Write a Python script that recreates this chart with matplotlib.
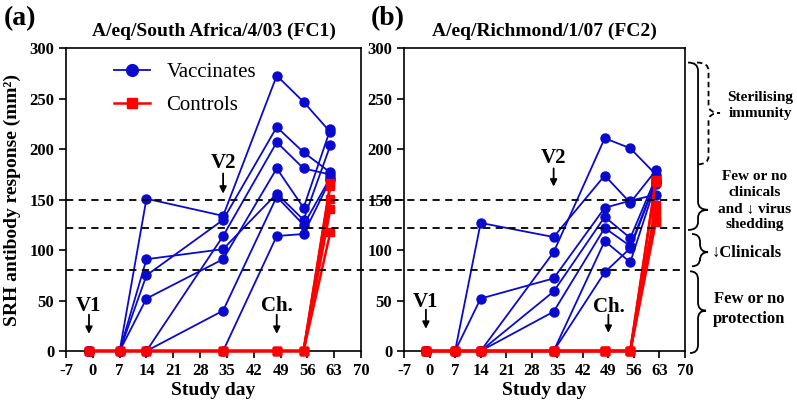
import numpy as np
import matplotlib
matplotlib.use('Agg')
import matplotlib.pyplot as plt
from matplotlib.path import Path
from matplotlib.patches import PathPatch
from matplotlib.lines import Line2D
from matplotlib import rcParams

rcParams['font.family'] = ['Liberation Serif', 'DejaVu Serif']
rcParams['font.size'] = 12
rcParams['axes.unicode_minus'] = False

# study days of sampling
days = [-1, 7, 14, 34, 48, 55, 62]

# panel (a) A/eq/South Africa/4/03 (FC1)
vacc_a = [
    [0, 0, 151, 134, 273, 247, 217],
    [0, 0, 75, 130, 222, 197, 177],
    [0, 0, 0, 114, 207, 181, 175],
    [0, 0, 52, 91, 181, 142, 220],
    [0, 0, 91, 101, 156, 130, 204],
    [0, 0, 0, 40, 153, 125, 172],
    [0, 0, 0, 0, 114, 116, 170],
]
ctrl_a_end = [167, 164, 151, 141, 118]

# panel (b) A/eq/Richmond/1/07 (FC2)
vacc_b = [
    [0, 0, 127, 113, 174, 147, 179],
    [0, 0, 52, 72, 142, 149, 155],
    [0, 0, 0, 98, 211, 201, 175],
    [0, 0, 0, 59, 133, 112, 172],
    [0, 0, 0, 39, 122, 104, 169],
    [0, 0, 0, 0, 109, 88, 166],
    [0, 0, 0, 0, 78, 102, 168],
]
ctrl_b_end = [170, 168, 145, 141, 135, 130, 128]

thresholds = [150, 122, 80]
xticks = list(range(-7, 71, 7))
yticks = list(range(0, 301, 50))

# arrows: (label, day, text centre y, arrow start y, arrow tip y)
events_a = [('V1', -1, 45, 36, 17), ('V2', 34, 186, 176, 156),
            ('Ch.', 48, 45, 36, 17)]
events_b = [('V1', -1, 49, 41, 22), ('V2', 34, 191, 181, 163),
            ('Ch.', 49, 44, 36, 18)]

# protection bands on the right: (top, bottom, tip, dashed)
bands = [
    (286, 120, 140, False),
    (286, 185, 236, True),
    (116, 84, 98, False),
    (79, -2, 40, False),
]

BLUE = '#0a0acf'
RED = '#ff0000'

fig = plt.figure(figsize=(7.97, 4.07), dpi=100)
ax1 = fig.add_axes([0.0828, 0.1376, 0.3702, 0.7434])
ax2 = fig.add_axes([0.5069, 0.1376, 0.3526, 0.7434])


def draw_panel(ax, vacc, ctrl_end, events, title):
    for i, v in enumerate(vacc):
        ax.plot(days, v, color=BLUE, lw=1.3, marker='o', ms=6.5,
                zorder=3, clip_on=False,
                label='Vaccinates' if i == 0 else None)
    for i, c in enumerate(ctrl_end):
        ax.plot(days, [0, 0, 0, 0, 0, 0, c], color=RED, lw=1.8, marker='s',
                ms=6, zorder=4, clip_on=False,
                label='Controls' if i == 0 else None)
    ax.set_xlim(-7, 70)
    ax.set_ylim(0, 300)
    ax.set_xticks(xticks)
    ax.set_yticks(yticks)
    ax.tick_params(direction='out', length=5, width=1.2, labelsize=12)
    for lab in ax.get_xticklabels() + ax.get_yticklabels():
        lab.set_fontweight('bold')
    for sp in ax.spines.values():
        sp.set_linewidth(1.2)
    ax.set_xlabel('Study day', fontsize=14, fontweight='bold', labelpad=2)
    ax.set_title(title, fontsize=14, fontweight='bold', pad=9)
    for lab, d, ty, y0, tip in events:
        ax.text(d, ty, lab, ha='center', va='center', fontsize=15,
                fontweight='bold')
        ax.annotate('', xy=(d, tip), xytext=(d, y0),
                    arrowprops=dict(arrowstyle='-|>', color='black', lw=1.3,
                                    mutation_scale=10, shrinkA=0, shrinkB=0))


draw_panel(ax1, vacc_a, ctrl_a_end, events_a, 'A/eq/South Africa/4/03 (FC1)')
draw_panel(ax2, vacc_b, ctrl_b_end, events_b, 'A/eq/Richmond/1/07 (FC2)')

ax1.set_ylabel('SRH antibody response (mm²)', fontsize=14, fontweight='bold',
               labelpad=6)
ax1.legend(loc='upper left', bbox_to_anchor=(0.1, 1.015), frameon=False,
           fontsize=15, handlelength=1.7, labelspacing=0.65, handletextpad=0.8,
           markerscale=1.3)

# dashed threshold lines spanning both panels
x_left = ax1.get_position().x0
x_right = ax2.get_position().x1
for t in thresholds:
    yf = fig.transFigure.inverted().transform(ax1.transData.transform((0, t)))[1]
    fig.add_artist(Line2D([x_left, x_right], [yf, yf], color='black',
                          lw=1.3, ls=(0, (4, 3)), zorder=5))


def px_day(px):
    # horizontal pixel position -> day units of panel (b)
    return -7 + (px - 404) / (281 / 77)


def brace(ax, x0, x1, y0, y1, tip, ry, ls='-'):
    xm = (x0 + x1) / 2
    verts = [(x0, y1), (xm, y1), (xm, y1 - ry),
             (xm, tip + ry),
             (xm, tip), (x1, tip),
             (xm, tip), (xm, tip - ry),
             (xm, y0 + ry),
             (xm, y0), (x0, y0)]
    codes = [Path.MOVETO, Path.CURVE3, Path.CURVE3,
             Path.LINETO,
             Path.CURVE3, Path.CURVE3,
             Path.CURVE3, Path.CURVE3,
             Path.LINETO,
             Path.CURVE3, Path.CURVE3]
    p = PathPatch(Path(verts, codes), fill=False, lw=1.3, ls=ls,
                  edgecolor='black', clip_on=False)
    ax.add_patch(p)


brace_x = [(688, 708), (697, 720), (692, 708), (690, 706)]
for (top, bot, tip, dashed), (xa, xb) in zip(bands, brace_x):
    brace(ax2, px_day(xa), px_day(xb), bot, top, tip, 8,
          ls=(0, (3, 2)) if dashed else '-')

tkw = dict(ha='center', va='center', fontsize=11, fontweight='bold',
           transform=fig.transFigure, linespacing=1.3)
fig.text(760 / 797, 1 - 105 / 407, 'Sterilising\nimmunity', **tkw)
fig.text(755 / 797, 1 - 201 / 407, 'Few or no\nclinicals\nand \u2193 virus\nshedding', **tkw)
fig.text(747 / 797, 1 - 253 / 407, '\u2193Clinicals', **dict(tkw, fontsize=12))
fig.text(749 / 797, 1 - 309 / 407, 'Few or no\nprotection',
         **dict(tkw, fontsize=12))

fig.text(0.005, 0.985, '(a)', fontsize=20, fontweight='bold', va='top')
fig.text(0.465, 0.985, '(b)', fontsize=20, fontweight='bold', va='top')

fig.savefig('out.png', dpi=100)
